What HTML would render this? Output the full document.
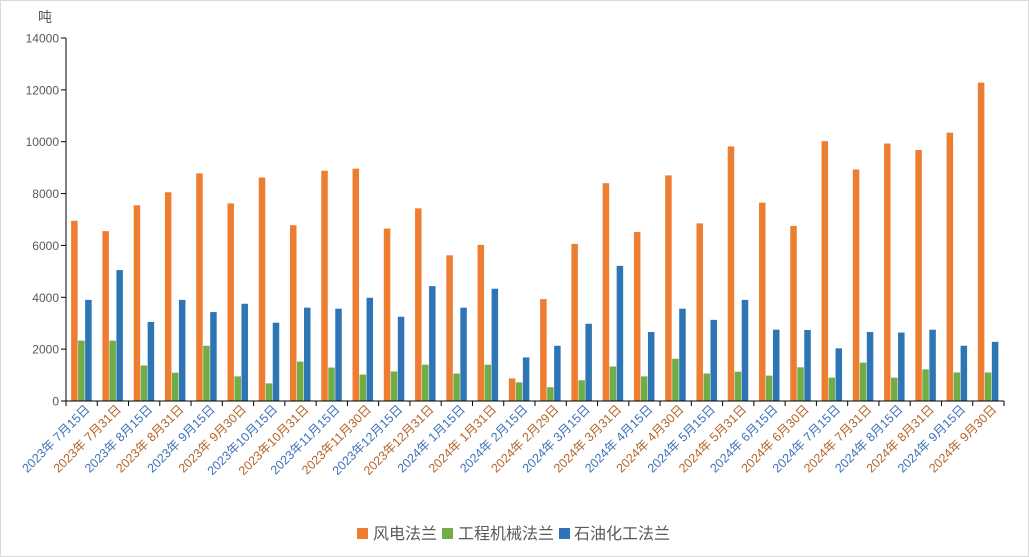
<!DOCTYPE html>
<html><head><meta charset="utf-8"><style>
html,body{margin:0;padding:0;background:#fff;}
svg{display:block;font-family:"Liberation Sans","Noto Sans CJK SC",sans-serif;}
</style></head><body>
<svg id="c" width="1029" height="557" xmlns="http://www.w3.org/2000/svg">
<rect x="0.5" y="0.5" width="1028" height="556" fill="#fff" stroke="#d9d9d9"/>
<text x="38" y="22" font-size="14" fill="#595959">吨</text>
<g id="g"></g>
<rect x="357" y="528" width="11" height="11" fill="#ed7d31"/>
<text x="373" y="539" font-size="16" fill="#595959">风电法兰</text>
<rect x="442" y="528" width="11" height="11" fill="#70ad47"/>
<text x="458" y="539" font-size="16" fill="#595959">工程机械法兰</text>
<rect x="559" y="528" width="11" height="11" fill="#2e75b6"/>
<text x="574" y="539" font-size="16" fill="#595959">石油化工法兰</text>
</svg>
<script>
var labels=["2023年 7月15日","2023年 7月31日","2023年 8月15日","2023年 8月31日","2023年 9月15日","2023年 9月30日","2023年10月15日","2023年10月31日","2023年11月15日","2023年11月30日","2023年12月15日","2023年12月31日","2024年 1月15日","2024年 1月31日","2024年 2月15日","2024年 2月29日","2024年 3月15日","2024年 3月31日","2024年 4月15日","2024年 4月30日","2024年 5月15日","2024年 5月31日","2024年 6月15日","2024年 6月30日","2024年 7月15日","2024年 7月31日","2024年 8月15日","2024年 8月31日","2024年 9月15日","2024年 9月30日"];
var o=[6950,6550,7550,8050,8780,7620,8620,6780,8880,8960,6650,7430,5620,6020,870,3930,6060,8400,6520,8700,6850,9820,7650,6750,10020,8930,9930,9680,10350,12280];
var gr=[2330,2330,1370,1090,2130,950,680,1520,1290,1020,1140,1400,1060,1400,720,530,800,1330,950,1630,1060,1130,980,1300,900,1480,900,1220,1100,1100];
var b=[3900,5050,3050,3900,3430,3750,3020,3600,3560,3980,3250,4430,3600,4330,1680,2130,2980,5210,2660,3560,3130,3900,2750,2740,2030,2660,2640,2750,2130,2280];
var x0=66,x1=1004,y0=401,yt=38,n=30,bw=(x1-x0)/n,s=(y0-yt)/14000,h='';
for(var v=0;v<=14000;v+=2000){var y=y0-v*s;h+='<line x1="61" x2="66" y1="'+y+'" y2="'+y+'" stroke="#000"/><text x="59" y="'+(y+4.5)+'" font-size="12" fill="#595959" text-anchor="end">'+v+'</text>';}
var cols=["#ed7d31","#70ad47","#2e75b6"],ds=[o,gr,b];
for(var i=0;i<n;i++){var c=x0+bw*(i+0.5);
 for(var k=0;k<3;k++){var v=ds[k][i],hh=v*s;h+='<rect x="'+(c-10.5+k*7)+'" y="'+(y0-hh)+'" width="6.5" height="'+hh+'" fill="'+cols[k]+'"/>';}
 var tx=c+9,ty=410;
 h+='<text transform="translate('+tx+','+ty+') rotate(-45)" text-anchor="end" font-size="12.5" fill="'+(i%2?"#b4652a":"#3d73b8")+'">'+labels[i]+'</text>';
}
for(var i=0;i<=n;i++){var x=x0+bw*i;h+='<line x1="'+x+'" x2="'+x+'" y1="401" y2="406" stroke="#000"/>';}
h+='<line x1="66" x2="66" y1="38" y2="401" stroke="#000"/><line x1="66" x2="1004" y1="401" y2="401" stroke="#000"/>';
document.getElementById('g').innerHTML=h;
</script>
</body></html>
